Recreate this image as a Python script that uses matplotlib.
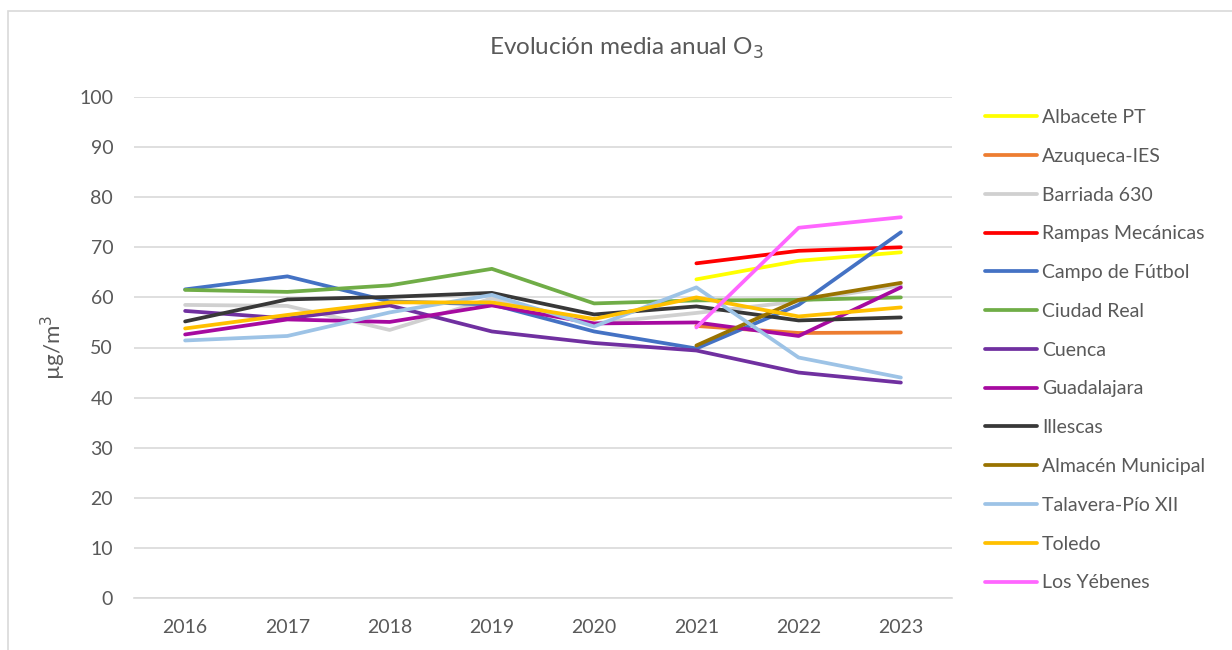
import matplotlib.pyplot as plt
import numpy as np
from matplotlib.patches import Rectangle

years = ['2016', '2017', '2018', '2019', '2020', '2021', '2022', '2023']
nan = np.nan

albacete = [nan, nan, nan, nan, nan, 63.6, 67.3, 69.0]
azuqueca = [nan, nan, nan, nan, nan, 54.3, 52.9, 53.0]
barriada = [58.5, 58.3, 53.5, 59.8, 54.8, 56.9, 59.2, 62.4]
rampas = [nan, nan, nan, nan, nan, 66.8, 69.3, 70.0]
campo = [61.6, 64.2, 59.2, 58.6, 53.2, 49.8, 58.5, 73.0]
ciudad_real = [61.5, 61.1, 62.4, 65.7, 58.8, 59.4, 59.5, 60.0]
cuenca = [57.3, 55.8, 58.4, 53.2, 50.9, 49.4, 45.0, 43.0]
guadalajara = [52.6, 55.6, 55.1, 58.4, 54.8, 55.0, 52.3, 62.0]
illescas = [55.2, 59.6, 60.1, 60.9, 56.6, 58.2, 55.4, 56.0]
almacen = [nan, nan, nan, nan, nan, 50.4, 59.5, 62.9]
talavera = [51.4, 52.3, 57.0, 60.5, 54.2, 62.0, 48.0, 44.0]
toledo = [53.8, 56.5, 59.0, 59.0, 55.7, 60.0, 56.2, 58.0]
yebenes = [nan, nan, nan, nan, nan, 54.0, 73.9, 76.0]

series = [
    ('Albacete PT', albacete, '#FFFF00'),
    ('Azuqueca-IES', azuqueca, '#ED7D31'),
    ('Barriada 630', barriada, '#D0D0D0'),
    ('Rampas Mecánicas', rampas, '#FF0000'),
    ('Campo de Fútbol', campo, '#4472C4'),
    ('Ciudad Real', ciudad_real, '#70AD47'),
    ('Cuenca', cuenca, '#7030A0'),
    ('Guadalajara', guadalajara, '#A60AA0'),
    ('Illescas', illescas, '#383838'),
    ('Almacén Municipal', almacen, '#997300'),
    ('Talavera-Pío XII', talavera, '#9DC3E6'),
    ('Toledo', toledo, '#FFC000'),
    ('Los Yébenes', yebenes, '#FF66FF'),
]

plt.rcParams['font.family'] = ['Lato', 'DejaVu Sans']
text_color = '#595959'
grid_color = '#D9D9D9'

fig = plt.figure(figsize=(12.32, 6.5), dpi=100)
# chart frame (right/bottom edges fall outside the picture)
fig.patches.append(Rectangle((8 / 1232, -0.01), 1.1, 1 - 11 / 650 + 0.01,
                             transform=fig.transFigure, fill=False,
                             edgecolor=grid_color, linewidth=1.2))

ax = fig.add_axes([134 / 1232, 1 - 598 / 650, 818 / 1232, 501 / 650])
x = np.arange(len(years))
for name, vals, color in series:
    ax.plot(x, vals, color=color, linewidth=2.7, label=name, solid_capstyle='round')

ax.set_xlim(-0.5, len(years) - 0.5)
ax.set_ylim(0, 100)
ax.set_yticks(range(0, 101, 10))
ax.set_xticks(x)
ax.set_xticklabels(years)
ax.yaxis.grid(True, color=grid_color, linewidth=1.2)
ax.set_axisbelow(True)
for s in ['top', 'right', 'left']:
    ax.spines[s].set_visible(False)
ax.spines['bottom'].set_color(grid_color)
ax.spines['bottom'].set_linewidth(1.2)
ax.tick_params(length=0, labelsize=14, colors=text_color)
ax.tick_params(axis='x', pad=15)
ax.tick_params(axis='y', pad=15)

ax.set_ylabel('µg/m$^3$', fontsize=16, color=text_color, labelpad=8)

fig.text(627 / 1232, 1 - 48 / 650, 'Evolución media anual O$_3$', ha='center', va='center',
         fontsize=17.5, color=text_color)

leg = ax.legend(loc='upper left', bbox_to_anchor=(967 / 1232, 1 - 91.5 / 650),
                bbox_transform=fig.transFigure, frameon=False, fontsize=14,
                handlelength=2.7, handletextpad=0.26, labelspacing=1.12)
for t in leg.get_texts():
    t.set_color(text_color)

fig.savefig('out.png', dpi=100)
